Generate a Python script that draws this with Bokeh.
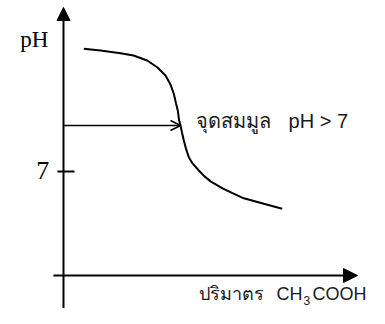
from bokeh.plotting import figure
from bokeh.models import Arrow, NormalHead, OpenHead, Label, Range1d, ColumnDataSource
from bokeh.embed import file_html
from bokeh.resources import INLINE

# ---- data ----
volume = [2.08, 3.79, 5.85, 7.18, 8.58, 9.61, 10.46, 10.97, 11.31, 11.54, 11.72, 11.86,
          12.00, 12.15, 12.34, 12.56, 12.85, 13.23, 13.88, 14.36, 15.08, 16.31, 17.33,
          18.49, 20.54, 22.43]
ph = [11.72, 11.65, 11.55, 11.46, 11.27, 11.01, 10.69, 10.35, 9.99, 9.62, 9.35, 8.96,
      8.77, 8.50, 8.19, 7.88, 7.55, 7.31, 7.04, 6.85, 6.62, 6.35, 6.17,
      5.97, 5.76, 5.57]
equiv_volume = 12.0
equiv_ph = 8.77
tick_values = [7]
tick_labels = ["7"]
ylabel = "pH"
equiv_thai = "จุดสมมูล"
equiv_latin = "pH > 7"
xlabel_thai = "ปริมาตร"
xlabel_ch = "CH"
xlabel_sub = "3"
xlabel_tail = "COOH"

W, H = 369, 308
p = figure(width=W, height=H, output_backend="svg", toolbar_location=None,
           x_range=Range1d(-6.46, 31.38), y_range=Range1d(1.731, 13.577),
           min_border=0, outline_line_color=None)
p.axis.visible = False
p.grid.visible = False
p.background_fill_color = "white"
p.border_fill_color = "white"

SANS = "Liberation Sans"
SERIF = "Liberation Serif"
TXT = "#1a1a1a"

# axes drawn as arrows
y0 = 3.0  # pH level of the horizontal axis
p.add_layout(Arrow(end=NormalHead(size=13, fill_color="black", line_color="black"),
                   x_start=0, y_start=1.731, x_end=0, y_end=13.31,
                   line_color="black", line_width=2))
p.add_layout(Arrow(end=NormalHead(size=14, fill_color="black", line_color="black"),
                   x_start=-1.03, y_start=y0, x_end=30.15, y_end=y0,
                   line_color="black", line_width=2))

# tick at 7
tsrc = ColumnDataSource(dict(x0=[-0.62] * len(tick_values), x1=[1.13] * len(tick_values),
                             y=tick_values))
p.segment(x0="x0", y0="y", x1="x1", y1="y", source=tsrc, line_color="black", line_width=2)
for v, t in zip(tick_values, tick_labels):
    p.add_layout(Label(x=-1.45, y=v + 1 / 26, text=t, text_align="right",
                       text_baseline="middle", text_font=SERIF,
                       text_font_size="26px", text_color="black"))

p.add_layout(Label(x=-1.55, y=12.077, text=ylabel, text_align="right",
                   text_baseline="middle", text_font=SERIF,
                   text_font_size="23px", text_color="black"))

# titration curve
p.line(volume, ph, line_color="black", line_width=2)

# arrow to equivalence point
p.add_layout(Arrow(end=OpenHead(size=10, line_color="black", line_width=1.5),
                   x_start=0, y_start=equiv_ph, x_end=equiv_volume, y_end=equiv_ph,
                   line_color="black", line_width=1.5))
p.add_layout(Label(x=equiv_volume + 1.54, y=equiv_ph + 4 / 26, text=equiv_thai,
                   text_align="left", text_baseline="middle", text_font=SANS,
                   text_font_size="20px", text_color=TXT))
p.add_layout(Label(x=equiv_volume + 11.08, y=equiv_ph + 4 / 26, text=equiv_latin,
                   text_align="left", text_baseline="middle", text_font=SANS,
                   text_font_size="20px", text_color=TXT))

# x label with subscript
xb = y0 - 18 / 26
p.add_layout(Label(x=13.85, y=xb, text=xlabel_thai, text_align="left",
                   text_baseline="middle", text_font=SANS,
                   text_font_size="18px", text_color=TXT))
p.add_layout(Label(x=21.85, y=xb, text=xlabel_ch, text_align="left",
                   text_baseline="middle", text_font=SANS,
                   text_font_size="18px", text_color=TXT))
p.add_layout(Label(x=24.62, y=xb - 7 / 26, text=xlabel_sub, text_align="left",
                   text_baseline="middle", text_font=SANS,
                   text_font_size="12px", text_color=TXT))
p.add_layout(Label(x=25.54, y=xb, text=xlabel_tail, text_align="left",
                   text_baseline="middle", text_font=SANS,
                   text_font_size="18px", text_color=TXT))

open("out.html", "w").write(file_html(p, INLINE))
